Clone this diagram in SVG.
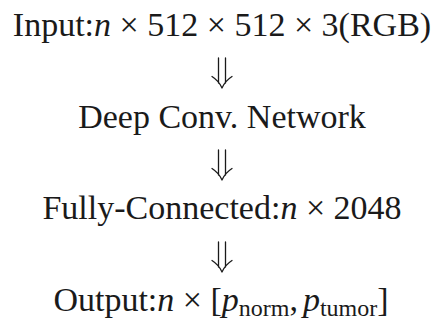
<svg xmlns="http://www.w3.org/2000/svg" width="434" height="320" viewBox="0 0 434 320">
  <style>
    .lbl { font-family: "Liberation Serif", "Times New Roman", serif; font-size: 34px; fill: #1a1a1a; text-anchor: middle; }
    .m { font-style: italic; }
    .sub { font-size: 24px; font-style: normal; }
    .arr { fill: none; stroke: #1a1a1a; stroke-width: 1.3; stroke-linecap: round; stroke-linejoin: round; }
  </style>
  <defs>
    <g id="dArrow">
      <path class="arr" d="M218.5,0 V25 M225.5,0 V25 M212,18.5 Q219,23 222,30 Q225,23 232,18.5"/>
    </g>
  </defs>
  <rect width="434" height="320" fill="#ffffff"/>
  <g id="input">
    <text class="lbl" x="222" y="36">Input:<tspan class="m">n</tspan> × 512 × 512 × 3(RGB)</text>
  </g>
  <g id="deep-conv">
    <text class="lbl" x="222" y="128">Deep Conv.  Network</text>
  </g>
  <g id="fully-connected">
    <text class="lbl" x="222" y="219">Fully-Connected:<tspan class="m">n</tspan> × 2048</text>
  </g>
  <g id="output">
    <text class="lbl" x="221" y="311">Output:<tspan class="m">n</tspan> × [<tspan class="m">p</tspan><tspan class="sub" dy="5">norm</tspan><tspan dy="-5">,</tspan><tspan class="m" dx="5">p</tspan><tspan class="sub" dy="5">tumor</tspan><tspan dy="-5">]</tspan></text>
  </g>
  <g id="connectors">
    <use href="#dArrow" y="58"/>
    <use href="#dArrow" y="150"/>
    <use href="#dArrow" y="242"/>
  </g>
</svg>
